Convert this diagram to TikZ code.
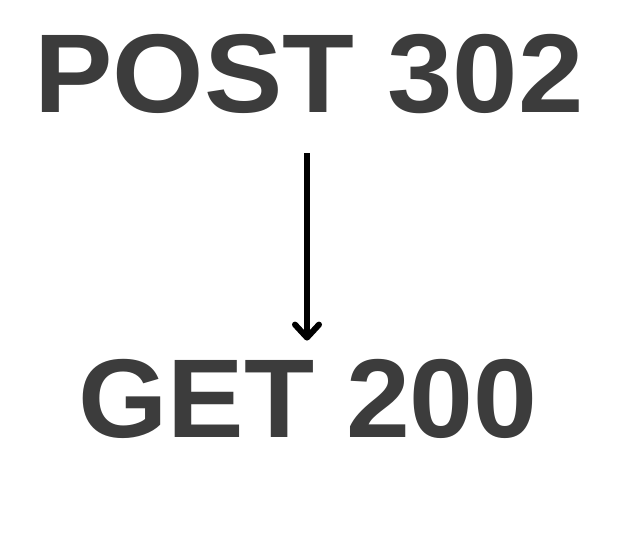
\documentclass[tikz,border=0pt]{standalone}
\usepackage{fontspec}
\setmainfont{Liberation Sans}
\usetikzlibrary{arrows.meta, positioning}
\definecolor{inkgray}{HTML}{3C3C3C}

\begin{document}
\begin{tikzpicture}[
  x=1pt, y=-1pt,
  word/.style={font=\fontsize{112}{112}\selectfont\bfseries, text=inkgray, inner sep=0pt, anchor=base},
  arrow/.style={-{Straight Barb[length=13pt, width=24pt, line cap=round, line join=round]}, line width=6pt, black}
]
\useasboundingbox (0,0) rectangle (640,535);

\node[word, xscale=1.05] (post) at (309,112) {POST 302};
\node[word, xscale=1.025] (get) at (308,437) {GET 200};

\draw[arrow, shorten <=40pt, shorten >=18pt] ([xshift=-2pt]post.south) -- ([xshift=-1pt]get.north);

\end{tikzpicture}
\end{document}
